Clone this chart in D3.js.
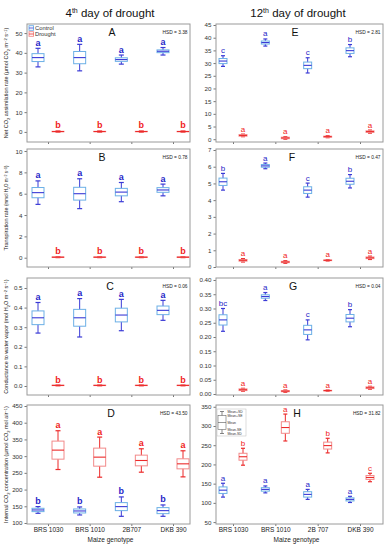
<!DOCTYPE html>
<html><head><meta charset="utf-8">
<script src="https://cdn.jsdelivr.net/npm/d3@7"></script>
<style>body{margin:0;background:#fff} svg{display:block;font-family:"Liberation Sans",Arial,sans-serif}</style>
</head><body><svg id="c" width="385" height="550"></svg>
<script>
const genotypesDay4 = ["BRS 1030","BRS 1010","2B707","DKB 390"];
const genotypesDay12 = ["BRS 1030","BRS 1010","2B 707","DKB 390"];

// each entry: [mean, SE, SD]
const netCO2Day4Control = [[37.6,2.0,4.7],[37.6,3.1,6.7],[36.6,0.9,2.3],[40.8,0.7,1.9]];
const netCO2Day4Drought = [[0.2,0.1,0.3],[0.2,0.1,0.3],[0.2,0.1,0.3],[0.2,0.1,0.3]];
const transpDay4Control = [[6.1,0.48,1.1],[6.0,0.6,1.4],[6.15,0.35,0.9],[6.35,0.22,0.55]];
const transpDay4Drought = [[0.05,0.02,0.04],[0.05,0.02,0.04],[0.05,0.02,0.04],[0.05,0.02,0.04]];
const condDay4Control = [[0.348,0.035,0.078],[0.348,0.043,0.098],[0.362,0.035,0.08],[0.386,0.022,0.051]];
const condDay4Drought = [[0.003,0.001,0.002],[0.003,0.001,0.002],[0.003,0.001,0.002],[0.003,0.001,0.002]];
const ciDay4Control = [[139,5,10],[136,6,12],[149,12,29],[137,9,17]];
const ciDay4Drought = [[318,27,58],[297,27,60],[287,16,35],[277,15,39]];

const netCO2Day12Control = [[30.8,1.0,2.1],[38.1,0.6,1.4],[29.1,1.3,3.0],[34.9,1.1,2.4]];
const netCO2Day12Drought = [[1.5,0.3,0.5],[0.5,0.3,0.5],[1.0,0.2,0.4],[3.0,0.3,0.6]];
const transpDay12Control = [[5.1,0.22,0.5],[6.05,0.08,0.17],[4.6,0.2,0.42],[5.13,0.18,0.4]];
const transpDay12Drought = [[0.4,0.05,0.1],[0.3,0.04,0.08],[0.4,0.02,0.04],[0.55,0.05,0.1]];
const condDay12Control = [[0.26,0.018,0.04],[0.342,0.006,0.014],[0.225,0.016,0.035],[0.266,0.013,0.03]];
const condDay12Drought = [[0.015,0.003,0.005],[0.01,0.002,0.004],[0.012,0.001,0.002],[0.022,0.003,0.005]];
const ciDay12Control = [[133,8.5,18],[135,4.5,9],[122,7,13],[109,4,8]];
const ciDay12Drought = [[220,9,22],[296,15,35],[249,9,19],[166,5,11]];

const lettersA = {c:["a","a","a","a"], d:["b","b","b","b"]};
const lettersB = {c:["a","a","a","a"], d:["b","b","b","b"]};
const lettersC = {c:["a","a","a","a"], d:["b","b","b","b"]};
const lettersD = {c:["b","b","b","b"], d:["a","a","a","a"]};
const lettersE = {c:["c","a","c","b"], d:["a","a","a","a"]};
const lettersF = {c:["b","a","c","b"], d:["a","a","a","a"]};
const lettersG = {c:["bc","a","c","b"], d:["a","a","a","a"]};
const lettersH = {c:["a","a","a","a"], d:["b","a","b","c"]};

const hsdValues = ["3.38","0.78","0.06","43.50","2.81","0.47","0.04","31.82"];

const ticksA = [0,10,20,30,40,50];
const ticksB = [0,2,4,6,8,10];
const ticksC = [0,0.1,0.2,0.3,0.4,0.5];
const ticksD = [100,150,200,250,300,350,400,450];
const ticksE = [0,5,10,15,20,25,30,35,40,45];
const ticksF = [0,1,2,3,4,5,6,7];
const ticksG = [0,0.05,0.1,0.15,0.2,0.25,0.3,0.35,0.4];
const ticksH = [50,100,150,200,250,300,350];

const yTitles = [
  [["Net CO",0,5.5],["2",1,4],[" assimilation rate (μmol CO",0,5.5],["2",1,4],[" m",0,5.5],["−2",-1,4],[" s",0,5.5],["−1",-1,4],[")",0,5.5]],
  [["Transpiration rate ",0,5.5],["(mmol H",0,4.5],["2",1,3.5],["O m",0,4.5],["−2",-1,3.5],[" s",0,4.5],["−1",-1,3.5],[")",0,4.5]],
  [["Conductance to water vapor (mol H",0,5.5],["2",1,4],["O m",0,5.5],["−2",-1,4],[" s",0,5.5],["−1",-1,4],[")",0,5.5]],
  [["Internal CO",0,5.5],["2",1,4],[" concentration (μmol CO",0,5.5],["2",1,4],[" mol air",0,5.5],["−1",-1,4],[")",0,5.5]]
];

const panels = [
  {L:"A",col:0,row:0,dom:[-5.1,54.6],ticks:ticksA,fmt:d3.format("d"),c:netCO2Day4Control,d:netCO2Day4Drought,let:lettersA,lx:112},
  {L:"B",col:0,row:1,dom:[-0.87,10.19],ticks:ticksB,fmt:d3.format("d"),c:transpDay4Control,d:transpDay4Drought,let:lettersB,lx:102},
  {L:"C",col:0,row:2,dom:[-0.046,0.551],ticks:ticksC,fmt:d3.format(".1f"),c:condDay4Control,d:condDay4Drought,let:lettersC,lx:110},
  {L:"D",col:0,row:3,dom:[97,453],ticks:ticksD,fmt:d3.format("d"),c:ciDay4Control,d:ciDay4Drought,let:lettersD,lx:111},
  {L:"E",col:1,row:0,dom:[-1.1,45.4],ticks:ticksE,fmt:d3.format("d"),c:netCO2Day12Control,d:netCO2Day12Drought,let:lettersE,lx:295},
  {L:"F",col:1,row:1,dom:[0,7.06],ticks:ticksF,fmt:d3.format("d"),c:transpDay12Control,d:transpDay12Drought,let:lettersF,lx:292},
  {L:"G",col:1,row:2,dom:[-0.0035,0.407],ticks:ticksG,fmt:d3.format(".2f"),c:condDay12Control,d:condDay12Drought,let:lettersG,lx:293},
  {L:"H",col:1,row:3,dom:[45,354.6],ticks:ticksH,fmt:d3.format("d"),c:ciDay12Control,d:ciDay12Drought,let:lettersH,lx:297}
];

const rows = [[24,142],[149,267],[278,395],[405,524]];
const cols = [[27,190],[216,383]];
const colors = {
  cBox:"#6cb0e6", cLine:"#3a3ad6", cLet:"#1f1fc8",
  dBox:"#f28a8a", dLine:"#ec2a2a", dLet:"#f01c1c"
};

const svg = d3.select("#c");
svg.append("rect").attr("width",385).attr("height",550).attr("fill","#fff");

// column titles
[["4",110],["12",298]].forEach(([n,x])=>{
  const t = svg.append("text").attr("x",x).attr("y",17).attr("text-anchor","middle")
    .attr("font-size",11.5).attr("fill","#111");
  t.append("tspan").text(n);
  t.append("tspan").attr("font-size",7).attr("dy",-4).text("th");
  t.append("tspan").attr("dy",4).text(" day of drought");
});

panels.forEach((p,i)=>{
  const [x0,x1] = cols[p.col];
  const [top,bot] = rows[p.row];
  const g = svg.append("g");
  const y = d3.scaleLinear().domain(p.dom).range([bot,top]);
  const gen = p.col===0 ? genotypesDay4 : genotypesDay12;
  const xs = d3.scalePoint().domain(gen).range(p.col===0 ? [x0+21,x1-17] : [x0+17,x1-23]);
  const left = p.col===0;
  const bw = left ? 12 : 8, cap = left ? 5 : 4, off = 10;

  // y axis
  const ya = g.append("g").attr("transform",`translate(${x0},0)`)
    .call(d3.axisLeft(y).tickValues(p.ticks).tickFormat(p.fmt).tickSize(2.5).tickPadding(2));
  ya.select(".domain").remove();
  ya.selectAll("line").attr("stroke","#777");
  ya.selectAll("text").attr("font-size",6.2).attr("fill","#333").attr("font-family","Liberation Sans, Arial, sans-serif");

  // x axis
  const xa = g.append("g").attr("transform",`translate(0,${bot})`)
    .call(d3.axisBottom(xs).tickSize(2).tickPadding(1.5).tickFormat(p.row===3 ? (d=>d) : (()=>"")));
  xa.select(".domain").remove();
  xa.selectAll("line").attr("stroke","#777");
  xa.selectAll("text").attr("font-size",6.5).attr("fill","#222").attr("font-family","Liberation Sans, Arial, sans-serif");

  // frame
  g.append("rect").attr("x",x0).attr("y",top).attr("width",x1-x0).attr("height",bot-top)
    .attr("fill","none").attr("stroke","#9a9a9a").attr("stroke-width",1);

  // boxes
  const groups = [
    {data:p.c, dx:-off, box:colors.cBox, line:colors.cLine, lc:colors.cLet, letters:p.let.c},
    {data:p.d, dx:off, box:colors.dBox, line:colors.dLine, lc:colors.dLet, letters:p.let.d}
  ];
  groups.forEach(gr=>{
    gr.data.forEach((v,j)=>{
      const [m,se,sd] = v;
      const cx = xs(gen[j]) + gr.dx;
      const bg = g.append("g");
      bg.append("line").attr("x1",cx).attr("x2",cx).attr("y1",y(m+sd)).attr("y2",y(m-sd))
        .attr("stroke",gr.line).attr("stroke-width",1);
      [m+sd,m-sd].forEach(e=>bg.append("line").attr("x1",cx-cap/2).attr("x2",cx+cap/2)
        .attr("y1",y(e)).attr("y2",y(e)).attr("stroke",gr.line).attr("stroke-width",1.2));
      bg.append("rect").attr("x",cx-bw/2).attr("width",bw).attr("y",y(m+se))
        .attr("height",Math.max(0.01,y(m-se)-y(m+se))).attr("fill","#fff")
        .attr("stroke",gr.box).attr("stroke-width",1);
      bg.append("line").attr("x1",cx-bw/2).attr("x2",cx+bw/2).attr("y1",y(m)).attr("y2",y(m))
        .attr("stroke",gr.line).attr("stroke-width",1.1);
      bg.append("text").attr("x",cx).attr("y",y(m+sd)-2.5).attr("text-anchor","middle")
        .attr("font-size",left?9:8).attr("font-weight",left?"bold":"normal")
        .attr("fill",gr.lc).text(gr.letters[j]);
    });
  });

  // panel letter
  g.append("text").attr("x",p.lx).attr("y",top+12).attr("text-anchor","middle")
    .attr("font-size",10.5).attr("fill","#111").text(p.L);
  // HSD
  g.append("text").attr("x",x1-2.5).attr("y",top+9.5).attr("text-anchor","end")
    .attr("font-size",4.8).attr("fill","#222").text("HSD = "+hsdValues[i]);

  // y titles
  if (left) {
    const t = g.append("text").attr("transform",`translate(8,${(top+bot)/2}) rotate(-90)`)
      .attr("text-anchor","middle").attr("fill","#222");
    let prev = 0;
    yTitles[p.row].forEach(([s,shift,fs])=>{
      const dy = shift*1.5 - prev*1.5;
      t.append("tspan").attr("font-size",fs).attr("dy",dy).text(s);
      prev = shift;
    });
  }

  if (p.row===3) {
    const r = xs.range();
    g.append("text").attr("x",(r[0]+r[1])/2).attr("y",542).attr("text-anchor","middle")
      .attr("font-size",6.5).attr("fill","#222").text("Maize genotype");
  }
});

// legend in A
const legA = svg.append("g");
[["Control",colors.cBox,colors.cLine,28],["Drought",colors.dBox,colors.dLine,34]].forEach(([t,b,l,yy])=>{
  legA.append("rect").attr("x",29).attr("y",yy-2.3).attr("width",4.5).attr("height",4.6)
    .attr("fill","#fff").attr("stroke",b).attr("stroke-width",0.9);
  legA.append("line").attr("x1",29).attr("x2",33.5).attr("y1",yy).attr("y2",yy).attr("stroke",l).attr("stroke-width",0.8);
  legA.append("text").attr("x",35).attr("y",yy+2).attr("font-size",5.8).attr("fill","#333").text(t);
});

// legend in H
const legH = svg.append("g");
legH.append("rect").attr("x",217).attr("y",409).attr("width",29).attr("height",27)
  .attr("fill","#fff").attr("stroke","#bbb").attr("stroke-width",0.5);
const gx = 222;
legH.append("line").attr("x1",gx).attr("x2",gx).attr("y1",411.5).attr("y2",433.5).attr("stroke","#555").attr("stroke-width",0.7);
[411.5,433.5].forEach(v=>legH.append("line").attr("x1",gx-2).attr("x2",gx+2).attr("y1",v).attr("y2",v).attr("stroke","#555").attr("stroke-width",0.7));
legH.append("rect").attr("x",gx-4).attr("y",415.5).attr("width",8).attr("height",14).attr("fill","#fff").attr("stroke","#666").attr("stroke-width",0.6);
legH.append("line").attr("x1",gx-4).attr("x2",gx+4).attr("y1",422.5).attr("y2",422.5).attr("stroke","#555").attr("stroke-width",0.6);
[["Mean+SD",412],["Mean+SE",416],["Mean",423],["Mean-SE",430],["Mean-SD",434]].forEach(([t,v])=>{
  legH.append("text").attr("x",227.5).attr("y",v+1.2).attr("font-size",3.4).attr("fill","#333").text(t);
});
</script></body></html>
